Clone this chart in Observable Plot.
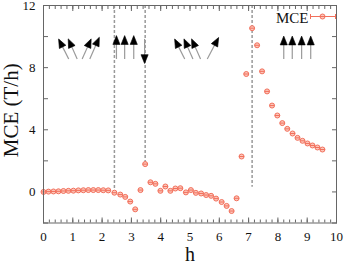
<!DOCTYPE html>
<html><head><meta charset="utf-8">
<script src="https://cdn.jsdelivr.net/npm/d3@7"></script>
<script src="https://cdn.jsdelivr.net/npm/@observablehq/plot@0.6"></script>
<style>
html,body{margin:0;padding:0;background:#fff;}
#chart{width:345px;height:263px;}
</style></head><body><div id="chart"></div>
<script>
// ---- data ----
const hours = [0, 0.17, 0.34, 0.51, 0.68, 0.85, 1.02, 1.19, 1.36, 1.53, 1.70, 1.87, 2.04, 2.21,
  2.42, 2.62, 2.79, 2.96, 3.13, 3.31, 3.47, 3.65, 3.82, 3.99, 4.16, 4.33, 4.50, 4.67,
  4.86, 5.03, 5.20, 5.38, 5.55, 5.72, 5.89, 6.08, 6.25, 6.42, 6.59, 6.76, 6.92, 7.12,
  7.29, 7.46, 7.63, 7.80, 7.98, 8.15, 8.32, 8.50, 8.67, 8.84, 9.01, 9.18, 9.35, 9.52];
const mce = [0, 0.02, 0.03, 0.04, 0.06, 0.07, 0.08, 0.10, 0.11, 0.12, 0.12, 0.12, 0.11, 0.10,
  -0.05, -0.17, -0.32, -0.62, -1.12, 0.12, 1.79, 0.62, 0.52, 0.07, 0.35, 0.07, 0.22, 0.24,
  -0.03, 0.12, -0.06, -0.10, -0.20, -0.25, -0.43, -0.65, -0.90, -1.23, -0.41, 2.28, 7.59, 10.54,
  9.44, 7.76, 6.47, 5.56, 4.92, 4.43, 4.06, 3.76, 3.48, 3.29, 3.12, 2.99, 2.86, 2.73];

const boundaryH = [2.42, 3.47, 7.12];
const boundaryTop = [12, 12, 12];
const boundaryBottom = [0.20, 1.79, 0.30];

const arrowTailH = [0.86, 1.15, 1.32, 1.58, 2.49, 2.77, 3.08, 3.45, 4.82, 5.10, 5.36, 5.59, 8.20, 8.49, 8.81, 9.12];
const arrowTailV = [8.56, 8.56, 8.56, 8.56, 8.56, 8.56, 8.56, 9.85, 8.56, 8.56, 8.56, 8.56, 8.56, 8.56, 8.56, 8.56];
const arrowHeadH = [0.60, 0.92, 1.55, 1.83, 2.49, 2.77, 3.08, 3.45, 4.56, 4.87, 5.13, 5.89, 8.20, 8.49, 8.81, 9.12];
const arrowHeadV = [9.53, 9.53, 9.53, 9.63, 9.71, 9.71, 9.71, 8.62, 9.53, 9.53, 9.53, 9.63, 9.68, 9.68, 9.68, 9.68];

const xTickLabels = [0, 1, 2, 3, 4, 5, 6, 7, 8, 9, 10];
const yTickLabels = [0, 4, 8, 12];
const yMajorTicks = [-2, 0, 2, 4, 6, 8, 10, 12];
const xMinorTicks = d3.range(0, 10.001, 0.2);

const seriesName = "MCE";
const xLabel = "h";
const yLabel = "MCE (T/h)";

// ---- layout ----
const W = 345, H = 263;
const mL = 43, mR = 9, mT = 5, mB = 40.5;
const xDomain = [0, 10], yDomain = [-2, 12];
const kx = (W - mL - mR) / (xDomain[1] - xDomain[0]);
const ky = (H - mT - mB) / (yDomain[1] - yDomain[0]);

const points = hours.map((h, i) => ({h, v: mce[i]}));
const bounds = boundaryH.map((h, i) => ({h, top: boundaryTop[i], bottom: boundaryBottom[i]}));
const arrows = arrowTailH.map((h0, i) => {
  const dxp = (arrowHeadH[i] - h0) * kx;
  const dyp = -(arrowHeadV[i] - arrowTailV[i]) * ky;
  return {h0, v0: arrowTailV[i], h1: arrowHeadH[i], v1: arrowHeadV[i],
    angle: Math.atan2(dxp, -dyp) * 180 / Math.PI};
});

// legend sample placed by pixel offsets from the frame's top-right corner
const legCx = xDomain[1] - 14 / kx, legY = yDomain[1] - 11 / ky;
const legX1 = legCx - 12 / kx, legX2 = legCx + 13 / kx, capH = 2.5 / ky;
const legendLine = [{x1: legX1, x2: legX2, y: legY}];
const legendCaps = [{x: legX1, y1: legY - capH, y2: legY + capH}, {x: legX2, y1: legY - capH, y2: legY + capH}];

const circleBar = {draw(ctx, size) {
  const r = Math.sqrt(size / Math.PI);
  ctx.moveTo(r, 0); ctx.arc(0, 0, r, 0, 2 * Math.PI);
  ctx.moveTo(-r, 0); ctx.lineTo(r, 0);
}};
const headTri = {draw(ctx, size) {
  const r = Math.sqrt(size / Math.PI);
  ctx.moveTo(0, -1.3 * r); ctx.lineTo(0.85 * r, 0.8 * r); ctx.lineTo(-0.85 * r, 0.8 * r); ctx.closePath();
}};

const salmon = "#f2705c", salmonFill = "#fcc6ba", axisGray = "#666";

const chart = Plot.plot({
  width: W, height: H,
  marginLeft: mL, marginRight: mR, marginTop: mT, marginBottom: mB,
  style: {fontFamily: "'Liberation Serif', 'Times New Roman', serif", fontSize: "13px", color: "#111", background: "#fff"},
  x: {domain: xDomain},
  y: {domain: yDomain},
  marks: [
    // inward ticks on all four sides
    Plot.axisX({anchor: "bottom", ticks: xMinorTicks, tickSize: -3, tickFormat: () => "", label: null, stroke: axisGray}),
    Plot.axisX({anchor: "bottom", ticks: xTickLabels, tickSize: -5, tickFormat: () => "", label: null, stroke: axisGray}),
    Plot.axisX({anchor: "top", ticks: xMinorTicks, tickSize: -3, tickFormat: () => "", label: null, stroke: axisGray}),
    Plot.axisX({anchor: "top", ticks: xTickLabels, tickSize: -5, tickFormat: () => "", label: null, stroke: axisGray}),
    Plot.axisY({anchor: "left", ticks: yMajorTicks, tickSize: -5, tickFormat: () => "", label: null, stroke: axisGray}),
    Plot.axisY({anchor: "right", ticks: yMajorTicks, tickSize: -5, tickFormat: () => "", label: null, stroke: axisGray}),
    // tick labels
    Plot.axisX({anchor: "bottom", ticks: xTickLabels, tickSize: 0, tickPadding: 9, fontSize: 13, label: null}),
    Plot.axisY({anchor: "left", ticks: yTickLabels, tickSize: 0, tickPadding: 8, fontSize: 13, label: null}),
    // boundary lines
    Plot.ruleX(bounds, {x: "h", y1: "top", y2: "bottom", stroke: "#999", strokeWidth: 1.5, strokeDasharray: "3,2"}),
    // arrows
    Plot.link(arrows, {x1: "h0", y1: "v0", x2: "h1", y2: "v1", stroke: "#9a9a9a", strokeWidth: 1.2}),
    Plot.dot(arrows, {x: "h1", y: "v1", rotate: "angle", symbol: headTri, r: 4.2, fill: "#000", stroke: "#000", strokeWidth: 0.6}),
    // data
    Plot.dot(points, {x: "h", y: "v", symbol: circleBar, r: 2.5, stroke: salmon, fill: salmonFill, strokeWidth: 1}),
    // frame
    Plot.frame({stroke: axisGray, strokeWidth: 1}),
    // legend
    Plot.text([seriesName], {frameAnchor: "top-right", dx: -28, dy: 13, textAnchor: "end", lineAnchor: "middle", fontSize: 15}),
    Plot.link(legendLine, {x1: "x1", x2: "x2", y1: "y", y2: "y", stroke: salmon, strokeWidth: 1}),
    Plot.link(legendCaps, {x1: "x", x2: "x", y1: "y1", y2: "y2", stroke: salmon, strokeWidth: 1}),
    Plot.dot([{x: legCx, y: legY}], {x: "x", y: "y", symbol: circleBar, r: 2.5, stroke: salmon, fill: salmonFill, strokeWidth: 1}),
    // axis titles
    Plot.text([yLabel], {frameAnchor: "left", dx: -32.5, dy: -4, rotate: -90, textAnchor: "middle", lineAnchor: "middle", fontSize: 21}),
    Plot.text([xLabel], {frameAnchor: "bottom", dy: 31.5, textAnchor: "middle", lineAnchor: "middle", fontSize: 20})
  ]
});
document.getElementById("chart").appendChild(chart);
</script>
</body></html>
